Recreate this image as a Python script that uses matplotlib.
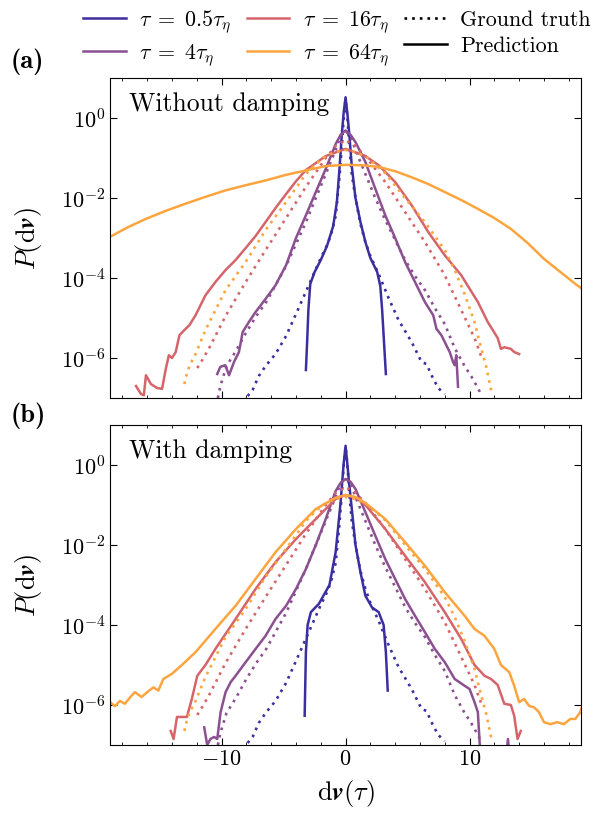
import numpy as np
import matplotlib
matplotlib.use("Agg")
import matplotlib.pyplot as plt
from matplotlib.lines import Line2D

plt.rcParams['mathtext.fontset'] = 'cm'
plt.rcParams['font.family'] = 'serif'
plt.rcParams['font.serif'] = ['cmr10', 'DejaVu Serif']
plt.rcParams['axes.formatter.use_mathtext'] = True
plt.rcParams['axes.unicode_minus'] = True

# ---- data: dv values and log10 P(dv) ----
taus = ['0.5', '4', '16', '64']
colors = ['#3b2f9f', '#8b5090', '#d6656b', '#fca53f']

# ground truth (same in both panels)
gt_x_05 = [-7.9, -7.5, -7.0, -6.45, -5.65, -4.8, -4.0, -3.5, -3.0, -2.5, -2.0, -1.6, -1.2, -0.8, -0.5, -0.3, -0.15, 0.0,
           0.15, 0.3, 0.5, 0.8, 1.2, 1.6, 2.0, 2.67, 3.47, 4.27, 5.33, 6.13, 6.53, 6.93, 7.47, 8.0]
gt_y_05 = [-6.95, -6.8, -6.45, -6.2, -5.9, -5.45, -4.9, -4.55, -4.2, -3.85, -3.5, -3.25, -2.95, -2.45, -1.5, -0.7, 0.0, 0.45,
           0.0, -0.7, -1.4, -2.0, -2.65, -3.1, -3.45, -3.9, -4.5, -5.05, -5.6, -6.1, -6.15, -6.43, -6.75, -6.9]
gt_x_4 = [-10.3, -10.1, -9.6, -8.8, -8.0, -7.2, -6.4, -5.6, -4.8, -4.0, -3.2, -2.4, -1.6, -0.8, -0.4, 0.0,
          0.4, 0.8, 1.6, 2.4, 3.2, 4.0, 4.8, 5.6, 6.4, 7.2, 8.0, 8.8, 9.6, 10.13, 10.67, 11.0]
gt_y_4 = [-7.0, -6.7, -6.2, -5.8, -5.35, -4.95, -4.6, -4.15, -3.7, -3.15, -2.6, -2.0, -1.4, -0.8, -0.45, -0.33,
          -0.45, -0.8, -1.4, -2.0, -2.55, -3.05, -3.55, -3.95, -4.3, -4.75, -5.15, -5.75, -6.2, -6.45, -6.75, -6.95]
gt_x_16 = [-11.96, -11.56, -11.0, -9.68, -8.06, -6.45, -4.8, -3.2, -1.6, -0.8, 0.0,
           0.8, 1.6, 3.2, 4.8, 6.4, 8.0, 9.33, 10.4, 10.93, 11.2]
gt_y_16 = [-6.25, -6.05, -5.75, -4.95, -4.1, -3.3, -2.5, -1.72, -1.0, -0.7, -0.55,
           -0.7, -0.95, -1.6, -2.35, -3.1, -3.93, -4.8, -5.5, -5.95, -6.0]
gt_x_64 = [-13.0, -12.9, -12.6, -12.1, -11.3, -9.68, -8.06, -6.45, -4.8, -3.2, -2.4, -1.6, -0.8, 0.0,
           0.8, 1.6, 3.2, 4.8, 6.4, 8.0, 8.8, 9.6, 10.4, 10.93, 11.33, 11.6, 11.8]
gt_y_64 = [-6.65, -6.5, -6.2, -5.9, -5.3, -4.3, -3.6, -2.8, -2.1, -1.4, -1.15, -0.95, -0.85, -0.8,
           -0.85, -0.95, -1.38, -2.0, -2.6, -3.3, -3.8, -4.4, -5.1, -5.75, -6.2, -6.6, -6.9]

# prediction, without damping (panel a)
pa_x_05 = [-3.2, -3.1, -3.0, -2.85, -2.5, -2.0, -1.5, -1.0, -0.7, -0.5, -0.3, -0.15, 0.0,
           0.15, 0.3, 0.5, 0.8, 1.2, 1.6, 2.0, 2.55, 2.8, 2.95, 3.1, 3.25]
pa_y_05 = [-6.3, -5.6, -4.8, -4.15, -3.85, -3.55, -3.2, -2.7, -2.1, -1.3, -0.4, 0.15, 0.52,
           0.1, -0.4, -1.2, -2.0, -2.6, -3.1, -3.5, -3.85, -4.2, -4.8, -5.6, -6.4]
pa_x_4 = [-10.35, -10.1, -9.7, -9.4, -9.0, -8.6, -8.3, -7.8, -7.26, -6.45, -5.65, -4.8, -4.0, -3.2, -2.4, -1.6, -0.8, -0.4, 0.0,
          0.4, 0.8, 1.6, 2.4, 3.2, 4.0, 4.8, 5.6, 6.4, 7.07, 7.33, 7.73, 8.0, 8.4, 8.67, 8.8, 8.93, 9.07]
pa_y_4 = [-6.4, -6.22, -6.18, -6.43, -6.1, -5.85, -5.35, -5.1, -4.85, -4.52, -4.18, -3.68, -3.0, -2.43, -1.85, -1.27, -0.65, -0.42, -0.31,
          -0.42, -0.6, -1.1, -1.77, -2.43, -3.0, -3.6, -4.1, -4.6, -4.93, -5.27, -5.43, -5.6, -5.85, -6.1, -6.18, -5.93, -6.72]
pa_x_16 = [-16.9, -16.5, -16.27, -16.1, -15.7, -15.2, -14.8, -14.5, -14.25, -14.0, -13.7, -13.4, -13.0, -12.6, -12.1,
           -11.3, -10.5, -9.68, -8.87, -8.06, -7.26, -6.45, -5.65, -4.8, -4.0, -3.2, -1.6, 0.0,
           1.6, 2.67, 4.0, 5.33, 6.67, 8.0, 9.33, 10.67, 11.47, 12.27, 12.53, 12.8, 13.33, 13.6, 14.0]
pa_y_16 = [-6.7, -6.9, -6.93, -6.43, -6.65, -6.75, -6.77, -6.27, -5.93, -6.0, -5.85, -5.43, -5.3, -5.18, -4.93,
           -4.43, -4.1, -3.8, -3.55, -3.25, -2.95, -2.6, -2.25, -1.9, -1.58, -1.3, -0.95, -0.77,
           -0.95, -1.18, -1.6, -2.18, -2.85, -3.43, -3.93, -4.6, -5.1, -5.5, -5.77, -5.73, -5.77, -5.85, -5.9]
pa_x_64 = [-19.0, -17.5, -16.1, -14.5, -12.9, -11.3, -9.7, -8.06, -6.45, -4.8, -3.2, -1.6, 0.0,
           1.33, 2.67, 4.0, 5.33, 6.67, 8.0, 9.33, 10.67, 12.0, 13.33, 14.67, 16.0, 17.33, 18.67, 19.0]
pa_y_64 = [-2.97, -2.72, -2.52, -2.32, -2.14, -1.97, -1.81, -1.68, -1.56, -1.42, -1.31, -1.2, -1.17,
           -1.18, -1.22, -1.33, -1.48, -1.65, -1.85, -2.05, -2.27, -2.5, -2.77, -3.12, -3.52, -3.85, -4.18, -4.25]

# prediction, with damping (panel b)
pb_x_05 = [-3.3, -3.2, -3.06, -2.8, -2.15, -1.3, -0.8, -0.4, -0.15, 0.0,
           0.15, 0.3, 0.53, 0.8, 1.2, 1.6, 2.13, 2.67, 3.07, 3.25, 3.4]
pb_y_05 = [-6.27, -4.68, -4.0, -3.68, -3.47, -3.0, -2.18, -0.93, 0.05, 0.48,
           0.0, -0.5, -1.18, -2.0, -2.68, -3.27, -3.56, -3.68, -4.0, -4.68, -5.64]
pb_x_4 = [-11.4, -11.16, -10.9, -10.6, -10.35, -10.08, -9.68, -9.27, -8.87, -8.06, -7.26, -6.45, -5.65, -4.8, -4.0,
          -3.2, -2.4, -1.6, -0.8, -0.4, 0.0, 0.4, 0.8, 1.6, 2.4, 3.2, 4.0, 4.8, 5.6, 6.4, 7.2, 8.0, 8.8, 9.6,
          10.0, 10.4, 10.67, 10.9, 12.9, 13.1, 13.25]
pb_y_4 = [-6.56, -7.0, -6.85, -6.8, -6.85, -6.18, -5.68, -5.43, -5.27, -4.93, -4.6, -4.27, -3.85, -3.52, -3.1,
          -2.6, -2.0, -1.35, -0.65, -0.45, -0.35, -0.42, -0.6, -1.18, -1.77, -2.35, -2.85, -3.35, -3.77, -4.18, -4.6, -4.93, -5.35, -5.52,
          -5.6, -5.93, -6.18, -7.4, -7.4, -6.85, -7.4]
pb_x_16 = [-14.1, -13.87, -13.6, -13.2, -12.8, -12.4, -11.96, -11.3, -10.5, -8.87, -7.26, -5.65, -4.0, -2.4, -0.8, 0.0,
           0.8, 1.6, 3.2, 4.8, 6.4, 8.0, 9.33, 10.4, 11.2, 11.73, 12.27, 12.8, 13.33, 13.6, 13.87, 14.13]
pb_y_16 = [-6.65, -6.85, -6.3, -6.3, -6.3, -5.85, -5.27, -5.0, -4.6, -3.85, -3.1, -2.43, -1.85, -1.35, -0.85, -0.75,
           -0.82, -1.0, -1.6, -2.27, -2.93, -3.68, -4.35, -5.0, -5.27, -5.35, -5.5, -5.97, -6.0, -6.27, -6.85, -6.65]
pb_x_64 = [-19.0, -18.6, -18.2, -17.8, -17.35, -17.0, -16.45, -16.0, -15.5, -15.1, -14.7, -14.0, -13.2, -12.1, -10.5,
           -8.87, -7.26, -5.65, -4.0, -2.4, -0.8, 0.0, 0.8, 1.6, 3.2, 4.8, 6.4, 8.0, 9.6, 10.4, 11.2, 12.0, 12.53,
           13.2, 13.6, 14.0, 14.4, 14.8, 15.2, 15.6, 16.0, 16.53, 17.07, 17.6, 18.13, 18.53, 18.93, 19.0]
pb_y_64 = [-5.93, -6.03, -5.9, -5.97, -5.8, -5.68, -5.8, -5.68, -5.56, -5.64, -5.35, -5.22, -5.0, -4.68, -4.1,
           -3.52, -2.85, -2.18, -1.6, -1.1, -0.82, -0.75, -0.8, -0.95, -1.35, -1.93, -2.52, -3.18, -3.77, -4.1, -4.27, -4.6, -5.0,
           -5.18, -5.52, -5.93, -5.85, -6.02, -6.06, -6.18, -6.43, -6.48, -6.43, -6.48, -6.35, -6.35, -6.18, -6.1]

gt_x = [gt_x_05, gt_x_4, gt_x_16, gt_x_64]
gt_y = [gt_y_05, gt_y_4, gt_y_16, gt_y_64]
pa_x = [pa_x_05, pa_x_4, pa_x_16, pa_x_64]
pa_y = [pa_y_05, pa_y_4, pa_y_16, pa_y_64]
pb_x = [pb_x_05, pb_x_4, pb_x_16, pb_x_64]
pb_y = [pb_y_05, pb_y_4, pb_y_16, pb_y_64]

dot = (0, (1, 1.9))

fig = plt.figure(figsize=(5.93, 8.19), dpi=100)
ax_a = fig.add_axes([0.1855, 0.514, 0.7945, 0.3907])
ax_b = fig.add_axes([0.1855, 0.0904, 0.7945, 0.3907])

fs = 16
for ax, px, py, title in [(ax_a, pa_x, pa_y, 'Without damping'), (ax_b, pb_x, pb_y, 'With damping')]:
    for i in range(4):
        ax.plot(gt_x[i], 10.0 ** np.array(gt_y[i]), ls=dot, lw=1.9, color=colors[i])
        ax.plot(px[i], 10.0 ** np.array(py[i]), ls='-', lw=1.8, color=colors[i])
    ax.set_yscale('log')
    ax.set_ylim(1e-7, 1e1)
    ax.set_xlim(-19, 19)
    ax.set_yticks([1e-6, 1e-4, 1e-2, 1e0])
    ax.yaxis.set_minor_locator(matplotlib.ticker.NullLocator())
    ax.set_xticks([-10, 0, 10])
    ax.set_xticks(np.arange(-18, 19, 2), minor=True)
    ax.tick_params(which='both', direction='in', top=True, right=True, labelsize=fs)
    ax.tick_params(which='major', length=5, width=0.8)
    ax.tick_params(which='minor', length=2.5, width=0.6)
    ax.set_ylabel(r'$P(\mathrm{d}\mathbfit{v})$', fontsize=19, labelpad=12)
    ax.text(0.04, 0.955, title, transform=ax.transAxes, fontsize=18.5, va='top', ha='left')

ax_a.tick_params(labelbottom=False)
ax_b.set_xlabel(r'$\mathrm{d}\mathbfit{v}(\tau)$', fontsize=19, labelpad=6)

fig.text(0.018, 0.924, '(a)', fontsize=19, fontfamily='cmb10', ha='left', va='center')
fig.text(0.018, 0.492, '(b)', fontsize=19, fontfamily='cmb10', ha='left', va='center')

handles = [Line2D([], [], color=colors[i], lw=1.8) for i in range(4)]
handles += [Line2D([], [], color='k', ls=dot, lw=1.9), Line2D([], [], color='k', lw=1.8)]
labels = [r'$\tau\;=\;%s\tau_\eta$' % t for t in taus] + ['Ground truth', 'Prediction']
fig.legend(handles, labels, ncol=3, loc='upper center', bbox_to_anchor=(0.568, 1.006), frameon=False,
           fontsize=15.8, handlelength=1.95, columnspacing=0.7, handletextpad=0.6, labelspacing=0.3,
           borderaxespad=0.2)

fig.savefig('out.png', dpi=100)
